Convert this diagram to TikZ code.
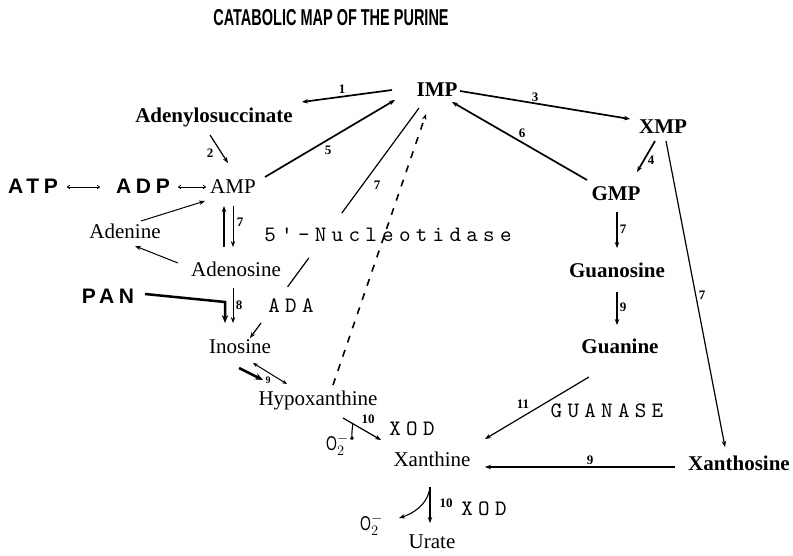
\documentclass[tikz,border=0pt]{standalone}
\usepackage{fontspec}
\setmainfont{Liberation Serif}
\newfontfamily\sansb[LetterSpace=22]{Liberation Sans}
\newfontfamily\titlef[FakeStretch=0.63]{Liberation Sans}
\newfontfamily\oxf[FakeStretch=0.7]{Liberation Sans}
\newfontfamily\monof[LetterSpace=24]{lmmono10-regular.otf}
\usetikzlibrary{arrows.meta,calc}
\begin{document}
\begin{tikzpicture}[x=1pt,y=-1pt,
  every node/.style={inner sep=0pt, anchor=base},
  bnode/.style={font=\fontsize{21}{21}\selectfont\bfseries},
  rnode/.style={font=\fontsize{21}{21}\selectfont},
  snode/.style={font=\sansb\bfseries\fontsize{21}{21}\selectfont},
  enz/.style={font=\monof\fontsize{22}{22}\selectfont},
  num/.style={font=\fontsize{13}{13}\selectfont\bfseries, anchor=center},
  oxy/.style={font=\oxf\fontsize{20}{20}\selectfont, anchor=base west},
  conn/.style={line width=1.2pt, -{Stealth[length=6pt,width=4.5pt]}},
  heavy/.style={conn, line width=1.7pt},
  dbl/.style={line width=0.8pt, {To[length=3pt,width=4pt]}-{To[length=3pt,width=4pt]}},
  fat/.style={line width=2.5pt, line join=miter, -{Stealth[length=8pt,width=6.5pt]}}
]
\fill[white] (0,0) rectangle (793,555);
\useasboundingbox (0,0) rectangle (793,555);

% title
\node[font=\titlef\bfseries\fontsize{23}{23}\selectfont] (title) at (331,25) {CATABOLIC MAP OF THE PURINE};

% compounds
\node[bnode] (IMP) at (437,96) {IMP};
\node[bnode] (Adeny) at (214,122) {Adenylosuccinate};
\node[bnode] (XMP) at (663,133) {XMP};
\node[snode] (ATP) at (33,193) {ATP};
\node[snode] (ADP) at (143,193) {ADP};
\node[rnode] (AMP) at (233,193) {AMP};
\node[rnode] (Adenine) at (125,238) {Adenine};
\node[enz] (Nucl) at (388,241) {5'-Nucleotidase};
\node[bnode] (GMP) at (616,200) {GMP};
\node[rnode] (Adenosine) at (236,276) {Adenosine};
\node[bnode] (Guanosine) at (617,277) {Guanosine};
\node[snode] (PAN) at (108,303) {PAN};
\node[enz] (ADA) at (291,312) {ADA};
\node[rnode] (Inosine) at (240,353) {Inosine};
\node[bnode] (Guanine) at (620,353) {Guanine};
\node[rnode] (Hypox) at (318,405) {Hypoxanthine};
\node[enz] (GUANASE) at (607,417) {GUANASE};
\node[enz] (XOD1) at (412,435) {XOD};
\node[rnode] (Xanthine) at (432,466) {Xanthine};
\node[bnode] (Xanthosine) at (739,470) {Xanthosine};
\node[enz] (XOD2) at (484,515) {XOD};
\node[rnode] (Urate) at (432,548) {Urate};
\node[oxy] (ox1) at (326,450) {O$^{-}_{2}$};
\node[oxy] (ox2) at (360,530) {O$^{-}_{2}$};

% reaction numbers
\node[num] (n1) at (342,89) {1};
\node[num] (n2) at (210,153) {2};
\node[num] (n5) at (328,150) {5};
\node[num] (n3) at (535,97) {3};
\node[num] (n6) at (522,133) {6};
\node[num] (n4) at (651,160) {4};
\node[num] (n7a) at (377,185) {7};
\node[num] (n7b) at (240,222) {7};
\node[num] (n8) at (239,305) {8};
\node[num] (n7c) at (623,229) {7};
\node[num] (n9a) at (623,307) {9};
\node[num] (n7d) at (702,295) {7};
\node[num, font=\fontsize{10}{10}\selectfont\bfseries] (n9b) at (268,380) {9};
\node[num] (n11) at (523,404) {11};
\node[num] (n10a) at (368,419) {10};
\node[num] (n9c) at (590,460) {9};
\node[num] (n10b) at (446,503) {10};

% top part
\draw[heavy] ($(IMP.base)+(-45,-6)$) -- ($(Adeny.base)+(88,-20)$);
\draw[heavy] ($(AMP.base)+(32,-16)$) -- ($(IMP.base)+(-42,4)$);
\draw[conn] ($(Adeny.base)+(-4,13)$) -- ($(AMP.base)+(-5,-30)$);
\draw[heavy] ($(IMP.base)+(23,-5)$) -- ($(XMP.base)+(-33,-14)$);
\draw[heavy] ($(GMP.base)+(-29,-20)$) -- ($(IMP.base)+(15,6)$);
\draw[heavy] ($(XMP.base)+(-8,8)$) -- ($(GMP.base)+(21,-28)$);
\draw[conn] ($(XMP.base)+(3,8)$) -- ($(Xanthosine.base)+(-14,-23)$);
\draw[conn] ($(GMP.base)+(1,12)$) -- ($(Guanosine.base)+(0,-29)$);
\draw[conn] ($(Guanosine.base)+(0,15)$) -- ($(Guanine.base)+(-3,-28)$);
\draw[conn] ($(Guanine.base)+(-31,24)$) -- ($(Xanthine.base)+(53,-27)$);
\draw[conn] ($(Xanthosine.base)+(-64,-3)$) -- ($(Xanthine.base)+(53,1)$);

% adenine nucleotides
\draw[dbl] ($(ATP.base)+(34,-6)$) -- ($(ADP.base)+(-43,-6)$);
\draw[dbl] ($(ADP.base)+(35,-6)$) -- ($(AMP.base)+(-27,-6)$);
\draw[conn, line width=1pt] ($(Adenine.base)+(16,-17)$) -- ($(AMP.base)+(-28,8)$);
\draw[conn, line width=1pt] ($(Adenosine.base)+(-58,-13)$) -- ($(Adenine.base)+(10,8)$);
\draw[conn, line width=2pt] ($(Adenosine.base)+(-12,-29)$) -- ($(AMP.base)+(-9,13)$);
\draw[conn, line width=1pt] ($(AMP.base)+(0,13)$) -- ($(Adenosine.base)+(-3,-29)$);
\draw[conn, line width=1pt] ($(Adenosine.base)+(-3,12)$) -- ($(Inosine.base)+(-7,-30)$);
\draw[fat] ($(PAN.base)+(37,-9)$) -- ($(Inosine.base)+(-15,-51)$) -- ($(Inosine.base)+(-15,-30)$);

% IMP -> Inosine (5'-nucleotidase / ADA), broken by the labels
\coordinate (s1) at ($(IMP.base)+(-18,12)$);
\coordinate (e1) at ($(Inosine.base)+(10,-15)$);
\draw[conn, -] (s1) -- ($(s1)!0.457!(e1)$);
\draw[conn, -] ($(s1)!0.652!(e1)$) -- ($(s1)!0.778!(e1)$);
\draw[conn] ($(s1)!0.935!(e1)$) -- (e1);

% salvage (dashed)
\draw[conn, line width=1.6pt, dash pattern=on 7pt off 8pt] ($(Hypox.base)+(15,-20)$) -- ($(IMP.base)+(-11,18)$);

% inosine <-> hypoxanthine
\draw[fat] ($(Inosine.base)+(-1,15)$) -- ($(Hypox.base)+(-55,-25)$);
\draw[line width=1pt, {Stealth[length=5pt,width=4pt]}-{Stealth[length=5pt,width=4pt]}] ($(Inosine.base)+(13,10)$) -- ($(Hypox.base)+(-31,-21)$);

% hypoxanthine -> xanthine (XOD)
\coordinate (h1) at ($(Hypox.base)+(25,13)$);
\coordinate (h2) at ($(Xanthine.base)+(-51,-26)$);
\draw[conn] (h1) -- (h2);
\draw[line width=1.1pt, -{Circle[length=3.5pt]}] ($(h1)!0.26!(h2)$) .. controls +(-1,8) .. ($(Xanthine.base)+(-80,-26)$);

% xanthine -> urate (XOD)
\draw[conn] ($(Xanthine.base)+(-2,21)$) -- ($(Urate.base)+(-2,-25)$);
\draw[conn, line width=1.1pt] ($(Xanthine.base)+(-2,21)$) .. controls ($(Urate.base)+(-4,-43)$) and ($(Urate.base)+(-20,-34)$) .. ($(Urate.base)+(-33,-30)$);
\end{tikzpicture}
\end{document}
